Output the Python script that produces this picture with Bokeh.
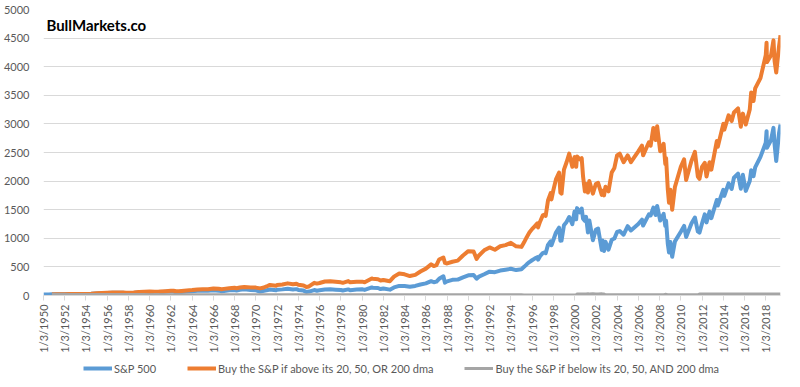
import math
import numpy as np
import pandas as pd
from bokeh.plotting import figure
from bokeh.layouts import column
from bokeh.models import ColumnDataSource, FixedTicker, Range1d, Legend, LegendItem, Label
from bokeh.embed import file_html
from bokeh.resources import INLINE

nan = float("nan")

dates = [
    "1950-01-03", "1950-03-31", "1950-06-30", "1950-10-20", "1950-12-29",
    "1951-03-30", "1951-06-29", "1951-09-28", "1951-12-31",
    "1952-06-30", "1952-12-31",
    "1953-06-30", "1953-12-31",
    "1954-06-30", "1954-12-31",
    "1955-06-30", "1955-12-30",
    "1956-06-29", "1956-12-31",
    "1957-06-28", "1957-10-22", "1957-12-31",
    "1958-06-30", "1958-12-31",
    "1959-06-30", "1959-12-31",
    "1960-06-30", "1960-10-25", "1960-12-30",
    "1961-06-30", "1961-12-29",
    "1962-03-30", "1962-06-26", "1962-09-28", "1962-12-31",
    "1963-06-28", "1963-12-31",
    "1964-06-30", "1964-12-31",
    "1965-06-30", "1965-12-31",
    "1966-06-30", "1966-10-07", "1966-12-30",
    "1967-06-30", "1967-12-29",
    "1968-03-05", "1968-06-28", "1968-11-29",
    "1969-06-30", "1969-12-31",
    "1970-05-26", "1970-09-30", "1970-12-31",
    "1971-04-28", "1971-11-23", "1971-12-31",
    "1972-06-30", "1972-12-29",
    "1973-06-29", "1973-10-26", "1973-12-31",
    "1974-06-28", "1974-10-03", "1974-12-31",
    "1975-06-30", "1975-09-30", "1975-12-31",
    "1976-06-30", "1976-12-31",
    "1977-06-30", "1977-12-30",
    "1978-03-06", "1978-09-12", "1978-11-14",
    "1979-06-29", "1979-12-31",
    "1980-03-27", "1980-11-28", "1980-12-31",
    "1981-06-30", "1981-09-25", "1981-12-31",
    "1982-08-12", "1982-12-31",
    "1983-06-30", "1983-12-30",
    "1984-06-29", "1984-12-31",
    "1985-06-28", "1985-12-31",
    "1986-06-30", "1986-09-30", "1986-12-31",
    "1987-03-31", "1987-08-25", "1987-10-19", "1987-12-31",
    "1988-06-30", "1988-12-30",
    "1989-06-30", "1989-12-29",
    "1990-06-29", "1990-10-11", "1990-12-31",
    "1991-06-28", "1991-12-31",
    "1992-06-30", "1992-12-31",
    "1993-06-30", "1993-12-31",
    "1994-06-30", "1994-12-30",
    "1995-03-31", "1995-06-30", "1995-09-29", "1995-12-29",
    "1996-03-29", "1996-06-28", "1996-07-24", "1996-09-30", "1996-12-31",
    "1997-03-31", "1997-04-11", "1997-06-30", "1997-09-30", "1997-10-27", "1997-12-31",
    "1998-03-31", "1998-07-17", "1998-08-31", "1998-10-08", "1998-12-31",
    "1999-03-31", "1999-06-30", "1999-10-15", "1999-12-31",
    "2000-02-25", "2000-03-24", "2000-06-30", "2000-09-01", "2000-10-18", "2000-12-20",
    "2001-01-30", "2001-04-04", "2001-05-21", "2001-09-21", "2001-12-31",
    "2002-03-19", "2002-07-23", "2002-08-22", "2002-10-09", "2002-11-27",
    "2003-03-11", "2003-06-30", "2003-09-30", "2003-12-31",
    "2004-03-31", "2004-08-12", "2004-12-31",
    "2005-04-20", "2005-12-30",
    "2006-05-05", "2006-06-13", "2006-12-29",
    "2007-02-27", "2007-06-01", "2007-08-15", "2007-10-09",
    "2008-01-22", "2008-05-19", "2008-07-15", "2008-08-11", "2008-10-10", "2008-11-20",
    "2009-01-06", "2009-03-09", "2009-06-12", "2009-12-31",
    "2010-04-23", "2010-07-02", "2010-12-31",
    "2011-04-29", "2011-08-08", "2011-10-03", "2011-12-30",
    "2012-04-02", "2012-06-01", "2012-09-14", "2012-11-15",
    "2013-05-21", "2013-06-24", "2013-12-31",
    "2014-02-03", "2014-06-30", "2014-10-15", "2014-12-31",
    "2015-05-21", "2015-08-25", "2015-11-03",
    "2016-02-11", "2016-06-27", "2016-08-15", "2016-11-04", "2016-12-30",
    "2017-06-30", "2017-12-29",
    "2018-01-26", "2018-02-08", "2018-06-29", "2018-09-20", "2018-10-29", "2018-12-24",
    "2019-03-29", "2019-05-20",
]

sp500 = [
    16.7, 17.3, 17.7, 20.0, 20.4,
    21.5, 21.0, 23.3, 23.8,
    25.0, 26.6,
    24.1, 24.8,
    29.2, 36.0,
    41.0, 45.5,
    46.9, 46.7,
    47.4, 39.0, 39.9,
    45.2, 55.2,
    58.5, 59.9,
    56.9, 52.3, 58.1,
    64.6, 71.6,
    69.6, 52.3, 56.3, 63.1,
    69.4, 75.0,
    81.7, 84.8,
    84.1, 92.4,
    84.7, 73.2, 80.3,
    90.6, 96.5,
    87.7, 99.6, 108.4,
    97.7, 92.1,
    69.3, 84.2, 92.2,
    104.8, 90.2, 102.1,
    107.1, 118.1,
    104.3, 111.4, 97.6,
    86.0, 62.3, 68.6,
    95.2, 83.9, 90.2,
    104.3, 107.5,
    100.5, 95.1,
    86.9, 107.0, 92.5,
    102.9, 107.9,
    98.2, 140.5, 135.8,
    131.2, 112.8, 122.6,
    102.4, 140.6,
    168.1, 164.9,
    153.2, 167.2,
    191.9, 211.3,
    250.8, 231.3, 242.2,
    291.7, 336.8, 224.8, 247.1,
    273.5, 277.7,
    318.0, 353.4,
    358.0, 295.5, 330.2,
    371.2, 417.1,
    408.1, 435.7,
    450.5, 466.5,
    444.3, 459.3,
    500.7, 544.8, 584.4, 615.9,
    645.5, 670.6, 626.7, 687.3, 740.7,
    757.1, 737.7, 885.1, 947.3, 877.0, 970.4,
    1101.8, 1186.8, 957.3, 959.4, 1229.2,
    1286.4, 1372.7, 1247.4, 1469.3,
    1333.4, 1527.5, 1454.6, 1520.8, 1342.1, 1305.6,
    1373.7, 1103.3, 1312.8, 965.8, 1148.1,
    1170.3, 797.7, 962.7, 776.8, 938.9,
    800.7, 974.5, 996.0, 1111.9,
    1126.2, 1063.2, 1211.9,
    1137.5, 1248.3,
    1325.8, 1223.7, 1418.3,
    1399.0, 1536.3, 1406.7, 1565.2,
    1310.5, 1426.6, 1214.9, 1305.3, 899.2, 752.4,
    934.7, 676.5, 946.2, 1115.1,
    1217.3, 1022.6, 1257.6,
    1363.6, 1119.5, 1099.2, 1257.6,
    1419.0, 1278.0, 1465.8, 1353.3,
    1669.2, 1573.1, 1848.4,
    1741.9, 1960.2, 1862.5, 2058.9,
    2130.8, 1867.6, 2109.8,
    1829.1, 2000.5, 2190.2, 2085.2, 2238.8,
    2423.4, 2673.6,
    2872.9, 2581.0, 2718.4, 2930.8, 2641.3, 2351.1,
    2834.4, 2990.0,
]

above_any = [
    nan, nan, nan, 20.0, 20.4,
    21.6, 21.2, 23.5, 24.0,
    25.2, 26.9,
    25.5, 26.2,
    31.0, 38.0,
    43.5, 48.5,
    50.5, 51.0,
    52.0, 47.0, 47.5,
    52.0, 63.0,
    67.0, 68.5,
    66.0, 64.0, 68.0,
    75.5, 84.0,
    83.0, 73.0, 74.0, 80.0,
    88.0, 95.0,
    104.0, 110.0,
    111.0, 123.0,
    117.0, 110.0, 116.0,
    128.0, 135.0,
    128.0, 140.0, 150.0,
    142.0, 138.0,
    125.0, 140.0, 158.0,
    185.0, 172.0, 182.0,
    192.0, 212.0,
    196.0, 205.0, 188.0,
    176.0, 150.0, 158.0,
    222.0, 208.0, 218.0,
    245.0, 250.0,
    240.0, 230.0,
    222.0, 252.0, 232.0,
    240.0, 242.0,
    232.0, 298.0, 292.0,
    285.0, 262.0, 272.0,
    250.0, 330.0,
    385.0, 370.0,
    340.0, 360.0,
    420.0, 470.0,
    545.0, 515.0, 530.0,
    630.0, 665.0, 570.0, 560.0,
    590.0, 610.0,
    700.0, 775.0,
    770.0, 640.0, 700.0,
    790.0, 840.0,
    800.0, 860.0,
    880.0, 920.0,
    860.0, 850.0,
    930.0, 1020.0, 1100.0, 1160.0,
    1210.0, 1260.0, 1190.0, 1290.0, 1400.0,
    1420.0, 1390.0, 1660.0, 1790.0, 1680.0, 1840.0,
    2030.0, 2150.0, 1800.0, 1780.0, 2200.0,
    2330.0, 2480.0, 2250.0, 2420.0,
    2250.0, 2430.0, 2380.0, 2400.0, 2080.0, 1820.0,
    1950.0, 1800.0, 2000.0, 1780.0, 1950.0,
    1970.0, 1760.0, 1830.0, 1750.0, 1900.0,
    1820.0, 2150.0, 2230.0, 2450.0,
    2480.0, 2330.0, 2450.0,
    2330.0, 2520.0,
    2620.0, 2450.0, 2680.0,
    2620.0, 2930.0, 2720.0, 2960.0,
    2520.0, 2650.0, 2300.0, 2400.0, 1850.0, 1620.0,
    1850.0, 1500.0, 1900.0, 2250.0,
    2380.0, 2020.0, 2350.0,
    2510.0, 2080.0, 2040.0, 2250.0,
    2320.0, 2080.0, 2330.0, 2200.0,
    2700.0, 2600.0, 3000.0,
    2900.0, 3150.0, 3050.0, 3200.0,
    3270.0, 2950.0, 3180.0,
    2990.0, 3250.0, 3550.0, 3400.0, 3620.0,
    3800.0, 4200.0,
    4420.0, 4080.0, 4200.0, 4460.0, 4100.0, 3900.0,
    4350.0, 4550.0,
]

below_all = [
    nan, nan, nan, 20.0, 19.8,
    19.5, 19.6, 19.0, 18.8,
    18.5, 18.2,
    18.4, 18.0,
    17.6, 17.3,
    17.0, 16.8,
    16.6, 16.3,
    16.0, 16.4, 16.2,
    15.8, 15.5,
    15.4, 15.1,
    15.3, 15.6, 15.2,
    14.9, 14.6,
    14.7, 15.2, 15.0, 14.7,
    14.5, 14.3,
    14.1, 13.9,
    14.0, 13.8,
    14.1, 14.5, 14.2,
    13.9, 13.7,
    13.9, 13.6, 13.4,
    13.6, 13.8,
    14.3, 14.0, 13.8,
    13.5, 13.8, 13.6,
    13.4, 13.2,
    13.5, 13.3, 13.6,
    13.9, 14.4, 14.2,
    13.7, 13.9, 13.7,
    13.4, 13.3,
    13.4, 13.5,
    13.7, 13.3, 13.6,
    13.4, 13.3,
    13.5, 13.0, 13.1,
    13.2, 13.5, 13.3,
    13.7, 13.0,
    12.7, 12.8,
    13.0, 12.9,
    12.6, 12.4,
    12.1, 12.3, 12.2,
    11.8, 11.5, 12.5, 12.3,
    12.1, 12.0,
    11.8, 11.6,
    11.6, 12.0, 11.8,
    11.5, 11.3,
    11.4, 11.2,
    11.1, 11.0,
    11.2, 11.1,
    10.9, 10.7, 10.6, 10.5,
    10.4, 10.3, 10.6, 10.2, 10.0,
    10.0, 10.1, 9.8, 9.7, 9.9, 9.6,
    9.4, 9.3, 9.9, 10.0, 9.4,
    9.3, 9.2, 9.6, 9.4,
    9.8, 26.0, 27.0, 27.0, 28.0, 28.0,
    28.0, 29.0, 28.0, 30.0, 28.0,
    28.0, 29.0, 28.0, 27.0, 12.0,
    12.0, 12.0, 12.0, 12.0,
    12.0, 12.0, 12.0,
    12.0, 12.0,
    12.0, 12.0, 12.0,
    12.0, 12.0, 12.0, 12.0,
    12.0, 12.0, 20.0, 20.0, 12.0, 12.0,
    12.0, 12.0, 12.0, 12.0,
    12.0, 12.0, 12.0,
    12.0, 12.0, 27.0, 27.0,
    27.0, 27.0, 27.0, 27.0,
    27.0, 27.0, 27.0,
    27.0, 27.0, 27.0, 27.0,
    27.0, 27.0, 27.0,
    27.0, 27.0, 27.0, 27.0, 27.0,
    27.0, 27.0,
    27.0, 27.0, 27.0, 27.0, 27.0, 27.0,
    27.0, 27.0,
]

series_names = [
    "S&P 500",
    "Buy the S&P if above its 20, 50, OR 200 dma",
    "Buy the S&P if below its 20, 50, AND 200 dma",
]
series_colors = ["#5B9BD5", "#ED7D31", "#A5A5A5"]
tick_years = list(range(1950, 2019, 2))
tick_labels = ["1/3/%d" % y for y in tick_years]
y_ticks = [0, 500, 1000, 1500, 2000, 2500, 3000, 3500, 4000, 4500, 5000]

assert len(dates) == len(sp500) == len(above_any) == len(below_all)

ORIGIN = pd.Timestamp("1950-01-03")


def day_index(s):
    return int((pd.Timestamp(s) - ORIGIN).days)


xs = np.array([day_index(d) for d in dates], dtype=float)
tick_x = [day_index("%d-01-03" % y) for y in tick_years]

src = ColumnDataSource(dict(
    x=xs,
    sp=np.array(sp500, dtype=float),
    up=np.array(above_any, dtype=float),
    dn=np.array(below_all, dtype=float),
))

FONT = "Lato"
TXT = "#595959"
GRID = "#D9D9D9"
WIDTHS = [4, 4, 3]

p = figure(width=784, height=355, output_backend="svg", toolbar_location=None,
           x_range=Range1d(0, xs[-1]), y_range=Range1d(0, 5000),
           min_border_left=34, min_border_right=4, min_border_top=9,
           min_border_bottom=60)
p.outline_line_color = None
p.background_fill_color = "white"
p.border_fill_color = "white"

for col, c, w in zip(["sp", "up", "dn"], series_colors, WIDTHS):
    p.line("x", col, source=src, line_color=c, line_width=w, line_join="round")

# x axis
p.xaxis.ticker = FixedTicker(ticks=tick_x)
p.xaxis.major_label_overrides = {t: lab for t, lab in zip(tick_x, tick_labels)}
p.xaxis.major_label_orientation = math.pi / 2
p.xaxis.axis_line_color = GRID
p.xaxis.major_tick_line_color = GRID
p.xaxis.major_tick_in = 0
p.xaxis.major_tick_out = 5
p.xaxis.minor_tick_line_color = None
p.xaxis.major_label_standoff = 4
p.xaxis.major_label_text_font = FONT
p.xaxis.major_label_text_font_size = "11px"
p.xaxis.major_label_text_color = TXT
p.xgrid.grid_line_color = None

# y axis
p.yaxis.ticker = FixedTicker(ticks=y_ticks)
p.yaxis.axis_line_color = None
p.yaxis.major_tick_line_color = None
p.yaxis.minor_tick_line_color = None
p.yaxis.major_label_standoff = 8
p.yaxis.major_label_text_font = FONT
p.yaxis.major_label_text_font_size = "11px"
p.yaxis.major_label_text_color = TXT
p.ygrid.ticker = FixedTicker(ticks=y_ticks)
p.ygrid.grid_line_color = GRID
p.ygrid.grid_line_width = 1

p.add_layout(Label(x=100, y=4890, text="BullMarkets.co", text_font=FONT,
                   text_font_style="bold", text_font_size="15px", text_color="#000000",
                   text_baseline="top", text_align="left"))

# legend strip below the chart (sample lines sit outside the strip's visible range)
lg = figure(width=784, height=26, output_backend="svg", toolbar_location=None,
            x_range=Range1d(0, 1), y_range=Range1d(0, 1),
            min_border_left=0, min_border_right=0, min_border_top=0, min_border_bottom=0)
lg.axis.visible = False
lg.grid.visible = False
lg.outline_line_color = None
lg.border_fill_color = "white"
items = []
for name, c, w in zip(series_names, series_colors, WIDTHS):
    r = lg.line([5, 6], [5, 6], line_color=c, line_width=w)
    items.append(LegendItem(label=name, renderers=[r]))
legend = Legend(
    items=items, orientation="horizontal", location=(40, 6),
    glyph_width=29, glyph_height=14, label_height=14, label_standoff=2, spacing=31,
    padding=2, margin=0, border_line_color=None, background_fill_alpha=0,
    label_text_font=FONT, label_text_font_size="11px", label_text_color=TXT,
)
lg.add_layout(legend, "center")

layout = column(p, lg, spacing=0)

open("out.html", "w").write(file_html(layout, INLINE))
